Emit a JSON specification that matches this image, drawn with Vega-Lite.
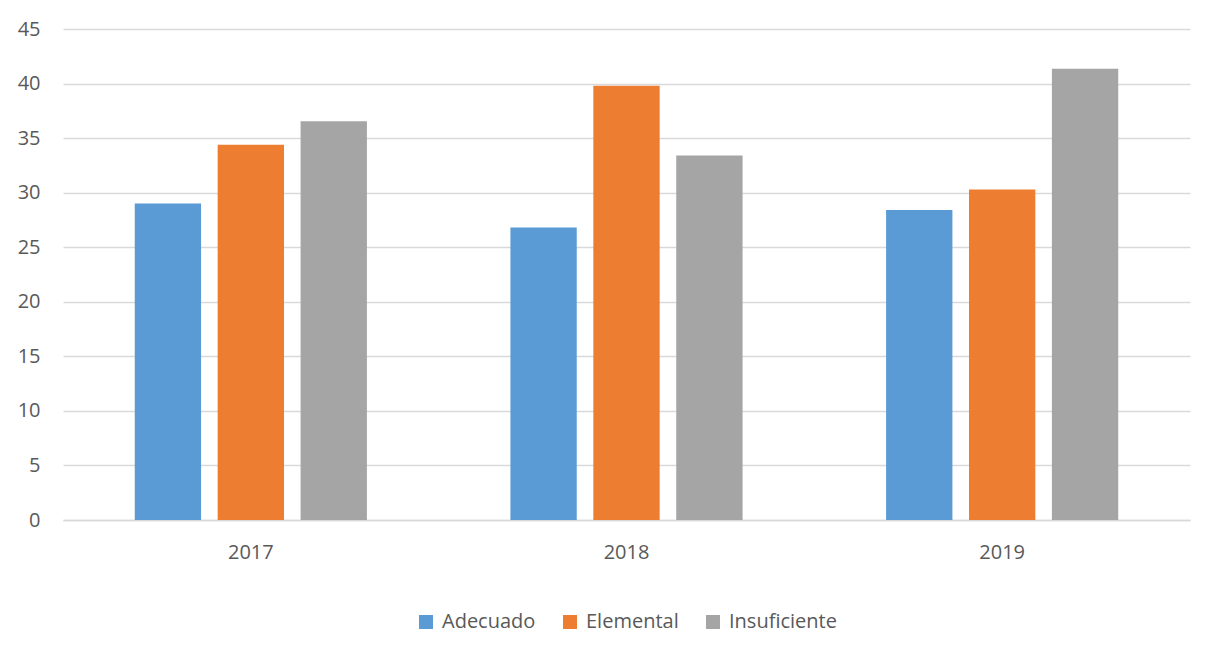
{
  "$schema": "https://vega.github.io/schema/vega-lite/v6.json",
  "autosize": {"type": "none"},
  "width": 1127,
  "height": 491,
  "padding": {"left": 63, "top": 29, "right": 33, "bottom": 130},
  "background": "white",
  "data": {
    "values": [
      {"year": "2017", "level": "Adecuado", "value": 29.0},
      {"year": "2017", "level": "Elemental", "value": 34.4},
      {"year": "2017", "level": "Insuficiente", "value": 36.55},
      {"year": "2018", "level": "Adecuado", "value": 26.8},
      {"year": "2018", "level": "Elemental", "value": 39.8},
      {"year": "2018", "level": "Insuficiente", "value": 33.4},
      {"year": "2019", "level": "Adecuado", "value": 28.4},
      {"year": "2019", "level": "Elemental", "value": 30.3},
      {"year": "2019", "level": "Insuficiente", "value": 41.35}
    ]
  },
  "mark": {"type": "bar"},
  "encoding": {
    "x": {
      "field": "year", "type": "nominal",
      "scale": {"paddingInner": 0.382, "paddingOuter": 0.191},
      "axis": {"title": null, "labelAngle": 0, "ticks": false, "domain": true, "domainColor": "#d9d9d9", "domainWidth": 1.5, "labelPadding": 22, "labelFontSize": 20, "labelColor": "#595959", "labelFont": "Open Sans"}
    },
    "xOffset": {"field": "level", "type": "nominal", "scale": {"paddingInner": 0.2, "paddingOuter": 0}},
    "y": {
      "field": "value", "type": "quantitative",
      "scale": {"domain": [0, 45], "nice": false},
      "axis": {"title": null, "values": [0, 5, 10, 15, 20, 25, 30, 35, 40, 45], "ticks": false, "domain": false, "grid": true, "gridColor": "#d9d9d9", "gridWidth": 1.5, "labelPadding": 23, "labelFontSize": 20, "labelColor": "#595959", "labelFont": "Open Sans"}
    },
    "color": {
      "field": "level", "type": "nominal",
      "scale": {"domain": ["Adecuado", "Elemental", "Insuficiente"], "range": ["#5B9BD5", "#ED7D31", "#A5A5A5"]},
      "legend": {"title": null, "orient": "bottom", "direction": "horizontal", "symbolType": "square", "symbolSize": 196, "symbolStrokeWidth": 0, "labelFontSize": 20, "labelOffset": 6, "labelColor": "#595959", "labelFont": "Open Sans", "columnPadding": 24, "offset": 50}
    }
  },
  "config": {
    "view": {"stroke": null},
    "legend": {"layout": {"bottom": {"anchor": "middle"}}}
  }
}
